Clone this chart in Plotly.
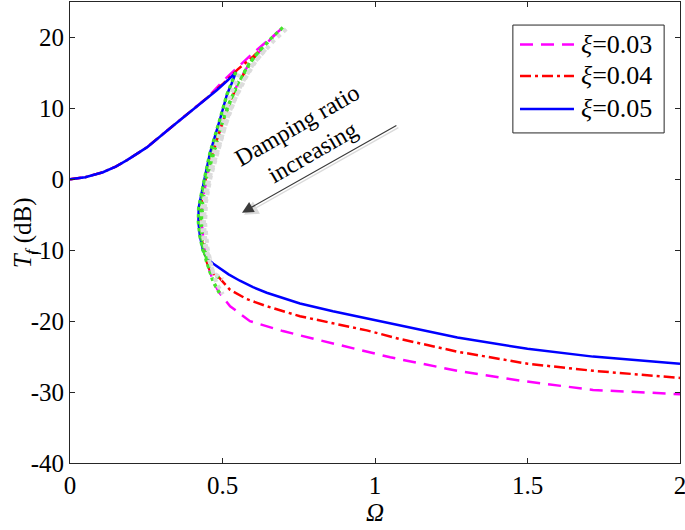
import plotly.graph_objects as go

# ---- data ----
# shared lower-frequency rise (upper stable branch)
omega_rise = [0.0, 0.05, 0.108, 0.15, 0.187, 0.252, 0.328, 0.403, 0.45]
T_rise = [0.0, 0.3, 1.0, 1.8, 2.7, 4.5, 7.2, 9.8, 11.5]

# xi = 0.05 (blue, solid)
omega_05 = [0.482, 0.518, 0.544, 0.53, 0.515, 0.492, 0.475, 0.459, 0.443, 0.433, 0.422, 0.421,
            0.426, 0.436, 0.45, 0.47, 0.49, 0.52, 0.557, 0.6, 0.645, 0.7, 0.754, 0.862, 0.973,
            1.08, 1.27, 1.5, 1.715, 2.0]
T_05 = [12.6, 14.0, 15.1, 13.5, 12.0, 8.5, 6.0, 3.7, 0.5, -1.5, -4.0, -6.0,
        -8.0, -10.0, -11.2, -11.9, -12.5, -13.4, -14.3, -15.2, -16.0, -16.8, -17.5, -18.6, -19.6,
        -20.6, -22.3, -23.9, -25.0, -26.0]
unst_05 = (2, 14)  # index range of unstable branch

# xi = 0.04 (red, dash-dot)
omega_04 = [0.5, 0.55, 0.6, 0.63, 0.6, 0.565, 0.53, 0.5, 0.47, 0.447, 0.432, 0.428, 0.434,
            0.447, 0.46, 0.49, 0.525, 0.58, 0.645, 0.754, 0.862, 0.973, 1.08, 1.27, 1.5,
            1.715, 2.0]
T_04 = [13.4, 15.5, 17.3, 18.5, 17.0, 14.5, 11.5, 8.0, 4.0, 0.5, -3.0, -6.0, -9.0,
        -11.5, -13.0, -13.9, -15.6, -16.9, -17.9, -19.3, -20.3, -21.3, -22.5, -24.3, -26.0,
        -27.0, -28.0]
unst_04 = (3, 15)

# xi = 0.03 (magenta, dashed)
omega_03 = [0.5, 0.55, 0.6, 0.65, 0.698, 0.656, 0.59, 0.55, 0.51, 0.475, 0.45, 0.435, 0.432,
            0.44, 0.455, 0.47, 0.49, 0.525, 0.59, 0.698, 0.81, 0.918, 1.05, 1.27, 1.495,
            1.715, 2.0]
T_03 = [13.8, 15.8, 17.8, 19.6, 21.4, 19.7, 16.5, 13.5, 9.5, 4.5, 0.5, -3.0, -6.0,
        -9.5, -12.5, -14.5, -16.0, -17.9, -20.0, -21.4, -22.6, -23.7, -25.1, -27.0, -28.5,
        -29.7, -30.3]
unst_03 = (4, 16)

series_names = ["<i>ξ</i>=0.03", "<i>ξ</i>=0.04", "<i>ξ</i>=0.05"]
series_colors = ["#ff00ff", "#ff0000", "#0000ff"]
series_dash = ["13px,8px", "11px,4px,3px,4px", "solid"]

x_ticks = [0, 0.5, 1, 1.5, 2]
x_ticktext = ["0", "0.5", "1", "1.5", "2"]
y_ticks = [-40, -30, -20, -10, 0, 10, 20]
y_ticktext = ["-40", "-30", "-20", "-10", "0", "10", "20"]

FONT = "Liberation Serif, Times New Roman, serif"

fig = go.Figure()

def full(om, T):
    return omega_rise + om, T_rise + T

# shadows of unstable branches (gray, slightly offset via overlay axis)
for om, T, (a, b) in [(omega_05, T_05, unst_05), (omega_04, T_04, unst_04), (omega_03, T_03, unst_03)]:
    fig.add_trace(go.Scatter(x=om[a:b + 1], y=T[a:b + 1], mode="lines", xaxis="x2", yaxis="y2",
                             line=dict(color="#dcdcdc", width=4, dash="dot"),
                             showlegend=False, hoverinfo="skip"))

for (om, T), name, col, dash in zip([(omega_03, T_03), (omega_04, T_04), (omega_05, T_05)],
                                    series_names, series_colors, series_dash):
    x, y = full(om, T)
    fig.add_trace(go.Scatter(x=x, y=y, mode="lines", name=name, showlegend=False,
                             line=dict(color=col, width=2.5, dash=dash)))

# unstable branches (green dotted)
for om, T, (a, b) in [(omega_05, T_05, unst_05), (omega_04, T_04, unst_04), (omega_03, T_03, unst_03)]:
    fig.add_trace(go.Scatter(x=om[a:b + 1], y=T[a:b + 1], mode="lines",
                             line=dict(color="#44e62a", width=3.5, dash="dot"),
                             showlegend=False, hoverinfo="skip"))

axis_common = dict(showline=True, linecolor="#262626", linewidth=1, mirror="ticks",
                   ticks="inside", ticklen=5, tickcolor="#262626", showgrid=False,
                   zeroline=False, automargin=False, ticklabeloverflow="allow",
                   tickfont=dict(family=FONT, size=25, color="black"))

fig.update_layout(
    width=685, height=530,
    margin=dict(l=70, r=5, t=2, b=67),
    paper_bgcolor="white", plot_bgcolor="white",
    xaxis=dict(range=[0, 2], tickvals=x_ticks, ticktext=x_ticktext,
               title=dict(text="<i>Ω</i>", font=dict(family=FONT, size=25, color="black"), standoff=0),
               **axis_common),
    yaxis=dict(range=[-40, 25], tickvals=y_ticks, ticktext=y_ticktext, **axis_common),
    xaxis2=dict(range=[-0.011, 1.989], overlaying="x", visible=False),
    yaxis2=dict(range=[-39.8, 25.2], overlaying="y", visible=False),
    showlegend=False,
)

# y-axis title as rotated annotation
fig.add_annotation(xref="paper", yref="paper", x=-0.074, y=0.5, xanchor="center", yanchor="middle",
                   text="<i>T<sub>f</sub></i> (dB)", textangle=-90, showarrow=False,
                   font=dict(family=FONT, size=25, color="black"))

# ---- hand-built legend (MATLAB style, long line samples) ----
fig.add_shape(type="rect", xref="paper", yref="paper", x0=0.726, x1=0.974, y0=0.716, y1=0.950,
              line=dict(color="#262626", width=1), fillcolor="white", layer="above")
row_y = [0.908, 0.8395, 0.768]
for yy, name, col, dash in zip(row_y, series_names, series_colors, series_dash):
    fig.add_shape(type="line", xref="paper", yref="paper", x0=0.7377, x1=0.8262, y0=yy, y1=yy,
                  line=dict(color=col, width=2.5, dash=dash), layer="above")
    fig.add_annotation(xref="paper", yref="paper", x=0.8344, y=yy, xanchor="left", yanchor="middle",
                       text=name, showarrow=False,
                       font=dict(family=FONT, size=26, color="black"))

# arrow shadow and arrow
fig.add_annotation(x=0.564, y=-4.7, ax=1.075, ay=7.7, xref="x", yref="y", axref="x", ayref="y",
                   text="", showarrow=True, arrowhead=2, arrowsize=1.9, arrowwidth=1.5,
                   arrowcolor="#dadada", xshift=2, yshift=-2)
fig.add_annotation(x=0.564, y=-4.7, ax=1.075, ay=7.7, xref="x", yref="y", axref="x", ayref="y",
                   text="", showarrow=True, arrowhead=2, arrowsize=1.9, arrowwidth=1.2,
                   arrowcolor="#3a3a3a")
fig.add_annotation(x=0.77, y=5.8, xref="x", yref="y", text="Damping ratio<br>increasing",
                   showarrow=False, textangle=-30,
                   font=dict(family=FONT, size=24, color="black"))

fig.write_html("out.html", config={"displayModeBar": False},
               post_script="document.body.style.margin='0';document.body.style.overflow='hidden';")
